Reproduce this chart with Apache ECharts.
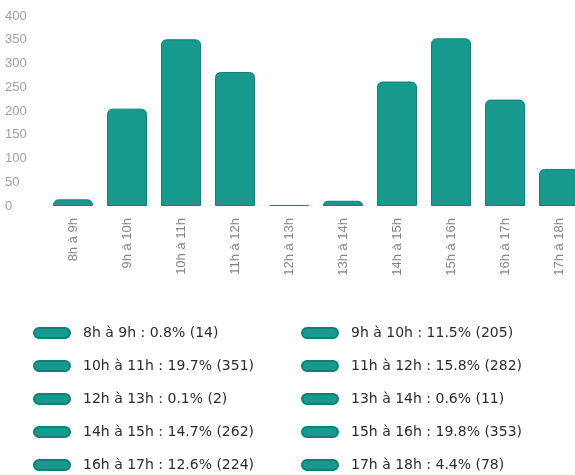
<!DOCTYPE html>
<html>
<head>
<meta charset="utf-8">
<script src="https://cdn.jsdelivr.net/npm/echarts@6/dist/echarts.min.js"></script>
<style>
  html, body { margin: 0; padding: 0; background: #fff; }
  #chart { width: 575px; height: 475px; }
</style>
</head>
<body>
<div id="chart"></div>
<script>
// plages horaires et nombre de passages
var categories = ['8h à 9h', '9h à 10h', '10h à 11h', '11h à 12h', '12h à 13h',
  '13h à 14h', '14h à 15h', '15h à 16h', '16h à 17h', '17h à 18h']
var counts = [14, 205, 351, 282, 2, 11, 262, 353, 224, 78]
var yTicks = { min: 0, max: 400, interval: 50 }

var total = counts.reduce(function (a, b) { return a + b }, 0)
var teal = '#17998d'

// une série par plage, empilées pour garder une seule barre par catégorie
var series = categories.map(function (name, i) {
  return {
    name: name,
    type: 'bar',
    stack: 'all',
    barCategoryGap: '26%',
    itemStyle: {
      color: teal,
      borderColor: '#0f8075',
      borderWidth: 1,
      borderRadius: [5, 5, 0, 0]
    },
    data: counts.map(function (v, j) { return j === i ? v : null })
  }
})

var chart = echarts.init(document.getElementById('chart'))
chart.setOption({
  animation: false,
  grid: {
    left: 46,
    top: 16,
    width: 540,
    bottom: 269,
    outerBoundsMode: 'none'
  },
  xAxis: {
    type: 'category',
    data: categories,
    axisLine: { show: false },
    axisTick: { show: false },
    axisLabel: {
      rotate: 90,
      margin: 12,
      fontSize: 13,
      color: '#858585',
      fontFamily: 'Liberation Sans'
    }
  },
  yAxis: {
    type: 'value',
    min: yTicks.min,
    max: yTicks.max,
    interval: yTicks.interval,
    splitLine: { show: false },
    axisLine: { show: false },
    axisTick: { show: false },
    axisLabel: {
      align: 'left',
      margin: 41,
      fontSize: 13,
      color: '#a0a0a0',
      fontFamily: 'Liberation Sans'
    }
  },
  legend: {
    left: 28,
    top: 321,
    width: 560,
    orient: 'horizontal',
    icon: 'path://M5,0 H31 A5,5 0 0 1 31,10 H5 A5,5 0 0 1 5,0 Z',
    itemWidth: 36,
    itemHeight: 10,
    itemGap: 19,
    textStyle: {
      fontSize: 14,
      color: '#2b2b2b',
      fontFamily: 'DejaVu Sans',
      width: 199,
      lineHeight: 14,
      padding: [0, 0, 0, 8]
    },
    formatter: function (name) {
      var v = counts[categories.indexOf(name)]
      return name + ' : ' + (v / total * 100).toFixed(1) + '% (' + v + ')'
    }
  },
  series: series
})
</script>
</body>
</html>
